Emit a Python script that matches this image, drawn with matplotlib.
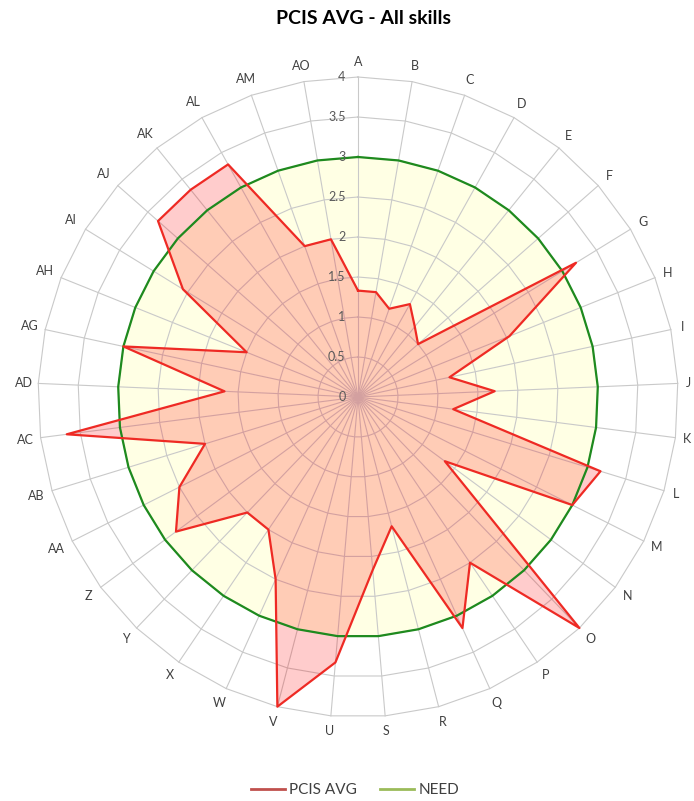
import numpy as np
import matplotlib
matplotlib.use("Agg")
import matplotlib.pyplot as plt
from matplotlib.lines import Line2D

categories = ["A", "B", "C", "D", "E", "F", "G", "H", "I", "J", "K", "L", "M", "N",
              "O", "P", "Q", "R", "S", "U", "V", "W", "X", "Y", "Z", "AA", "AB",
              "AC", "AD", "AG", "AH", "AI", "AJ", "AK", "AL", "AM", "AO"]
pcis_avg = [1.33, 1.33, 1.17, 1.33, 1.13, 1.0, 3.2, 2.04, 1.17, 1.71, 1.2, 3.17, 3.0,
            1.35, 4.0, 2.5, 3.17, 1.67, 2.17, 3.33, 4.0, 2.5, 2.0, 2.0, 2.83, 2.5,
            2.0, 3.67, 1.67, 3.0, 1.5, 2.57, 3.33, 3.33, 3.33, 2.0, 2.0]
need = [3.0] * len(categories)
ring_values = [0.5, 1.0, 1.5, 2.0, 2.5, 3.0, 3.5, 4.0]
ring_labels = ["0", "0.5", "1", "1.5", "2", "2.5", "3", "3.5", "4"]
r_max = 4.0

plt.rcParams["font.family"] = ["Lato", "DejaVu Sans"]

W, H = 694, 801
fig = plt.figure(figsize=(W / 100, H / 100), dpi=100)
cx, cy, R = 358, 397, 320
ax = fig.add_axes([(cx - R) / W, (H - cy - R) / H, 2 * R / W, 2 * R / H],
                  projection="polar")
ax.set_theta_zero_location("N")
ax.set_theta_direction(-1)
ax.set_ylim(0, r_max)
ax.grid(False)
ax.set_xticks([])
ax.set_yticks([])
ax.spines["polar"].set_visible(False)
ax.patch.set_visible(False)

n = len(categories)
theta = np.arange(n) * 2 * np.pi / n
theta_c = np.append(theta, theta[0])

def closed(vals):
    return np.append(vals, vals[0])

# NEED area (light yellow) underneath everything
ax.fill(theta_c, closed(need), color="#FFFFE4", zorder=1, clip_on=False)

# polygonal rings and spokes
grid_color = "#C9C9C9"
for rv in ring_values:
    ax.plot(theta_c, [rv] * (n + 1), color=grid_color, lw=0.8, zorder=2, clip_on=False)
for t in theta:
    ax.plot([t, t], [0, r_max], color=grid_color, lw=0.8, zorder=2, clip_on=False)

# PCIS AVG series
ax.fill(theta_c, closed(pcis_avg), color="#FF0000", alpha=0.2, lw=0, zorder=3,
        clip_on=False)
ax.plot(theta_c, closed(pcis_avg), color="#EE2A24", lw=1.6, zorder=5, clip_on=False)

# NEED line
ax.plot(theta_c, closed(need), color="#1E8A1E", lw=1.6, zorder=4, clip_on=False)

# radial value labels along the first spoke
for i, lab in enumerate(ring_labels):
    ax.annotate(lab, xy=(0, i * 0.5), xytext=(-9, 0), textcoords="offset points",
                ha="right", va="center", fontsize=9, color="#595959", zorder=6)

# category labels around the outside
for t, lab in zip(theta, categories):
    s, c = np.sin(t), np.cos(t)
    w = 7.5 * len(lab)
    d = 327 + abs(s) * w / 2 + abs(c) * 8 - R
    ax.annotate(lab, xy=(t, r_max), xytext=(s * d * 0.72, c * d * 0.72),
                textcoords="offset points", ha="center", va="center",
                fontsize=9, color="#404040", annotation_clip=False)

fig.text(363 / W, 1 - 18 / H, "PCIS AVG - All skills", ha="center", va="center",
         fontsize=14, fontweight="bold", color="#000000")

handles = [Line2D([], [], color="#C0504D", lw=2),
           Line2D([], [], color="#9BBB59", lw=2)]
fig.legend(handles, ["PCIS AVG", "NEED"], loc="center", bbox_to_anchor=(355 / W, 1 - 790 / H),
           ncol=2, frameon=False, fontsize=11, handlelength=2.2, handletextpad=0.3,
           columnspacing=1.5, labelcolor="#404040")

fig.savefig("out.png", dpi=100)
